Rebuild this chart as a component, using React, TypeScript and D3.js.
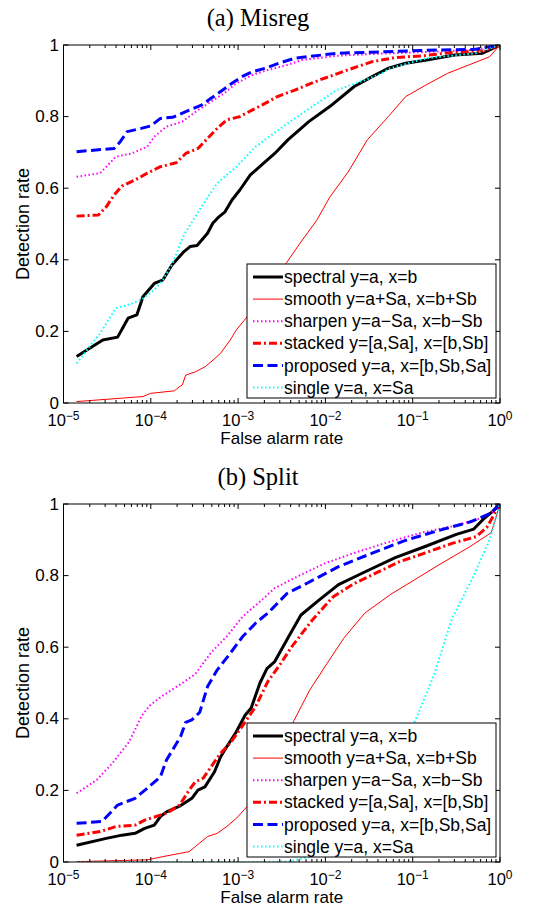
import React from 'react';
import * as d3 from 'd3';

// each point: [log10(false alarm rate), detection rate]
type Pt = [number, number];

const X_EXPONENTS = [-5, -4, -3, -2, -1, 0];
const Y_TICKS = [0, 0.2, 0.4, 0.6, 0.8, 1];
const Y_LABELS = ['0', '0.2', '0.4', '0.6', '0.8', '1'];
const LEGEND_LABELS = [
    'spectral y=a, x=b',
    'smooth y=a+Sa, x=b+Sb',
    'sharpen y=a\u2212Sa, x=b\u2212Sb',
    'stacked y=[a,Sa], x=[b,Sb]',
    'proposed y=a, x=[b,Sb,Sa]',
    'single y=a, x=Sa',
];

// (a) Misreg
const misregSpectral: Pt[] = [[-4.85, .13], [-4.55, .176], [-4.38, .184], [-4.26, .237], [-4.16, .246], [-4.09, .297], [-3.96, .334], [-3.86, .344], [-3.76, .385], [-3.62, .423], [-3.55, .437], [-3.47, .44], [-3.35, .474], [-3.29, .502], [-3.22, .52], [-3.15, .534], [-3.07, .567], [-2.98, .595], [-2.86, .637], [-2.73, .665], [-2.58, .697], [-2.43, .735], [-2.19, .786], [-1.95, .828], [-1.67, .884], [-1.47, .911], [-1.28, .935], [-1.08, .949], [-0.84, .958], [-0.52, .972], [-0.2, .977], [0, 1]];
const misregSmooth: Pt[] = [[-4.85, .004], [-4.09, .018], [-4.0, .027], [-3.73, .034], [-3.67, .046], [-3.64, .05], [-3.6, .078], [-3.49, .087], [-3.38, .101], [-3.31, .115], [-3.2, .139], [-3.09, .176], [-3.02, .204], [-2.9, .24], [-2.7, .31], [-2.55, .35], [-2.45, .39], [-2.28, .45], [-2.1, .51], [-1.95, .575], [-1.74, .645], [-1.52, .735], [-1.28, .8], [-1.08, .856], [-0.85, .888], [-0.6, .921], [-0.36, .944], [-0.12, .967], [0, 1]];
const misregSharpen: Pt[] = [[-4.85, .632], [-4.58, .642], [-4.4, .688], [-4.22, .697], [-4.04, .716], [-3.96, .744], [-3.82, .772], [-3.64, .786], [-3.46, .818], [-3.31, .842], [-3.16, .865], [-3.02, .893], [-2.84, .916], [-2.66, .93], [-2.44, .944], [-2.27, .958], [-1.87, .97], [-1.47, .975], [-0.88, .98], [-0.28, .987], [0, 1]];
const misregStacked: Pt[] = [[-4.85, .522], [-4.6, .525], [-4.51, .548], [-4.42, .581], [-4.33, .606], [-4.18, .623], [-4.04, .642], [-3.89, .66], [-3.71, .671], [-3.6, .697], [-3.46, .711], [-3.35, .739], [-3.24, .767], [-3.13, .791], [-2.98, .8], [-2.84, .818], [-2.69, .837], [-2.55, .856], [-2.35, .874], [-2.07, .902], [-1.75, .93], [-1.47, .953], [-1.2, .965], [-0.88, .97], [-0.52, .98], [-0.2, .983], [0, 1]];
const misregProposed: Pt[] = [[-4.85, .702], [-4.42, .711], [-4.35, .73], [-4.27, .758], [-4.11, .767], [-4.0, .774], [-3.89, .795], [-3.75, .798], [-3.56, .818], [-3.42, .832], [-3.31, .851], [-3.2, .87], [-3.07, .893], [-2.96, .911], [-2.84, .925], [-2.69, .935], [-2.51, .951], [-2.35, .963], [-1.87, .977], [-1.47, .98], [-0.88, .985], [-0.28, .988], [0, 1]];
const misregSingle: Pt[] = [[-4.85, .111], [-4.58, .195], [-4.4, .265], [-4.26, .274], [-4.11, .288], [-3.96, .316], [-3.86, .344], [-3.75, .39], [-3.62, .47], [-3.42, .548], [-3.24, .614], [-3.02, .66], [-2.8, .716], [-2.44, .78], [-2.15, .828], [-1.87, .874], [-1.55, .902], [-1.36, .92], [-1.26, .935], [-0.84, .963], [-0.28, .977], [0, 1]];

// (b) Split
const splitSpectral: Pt[] = [[-4.85, .047], [-4.51, .066], [-4.33, .075], [-4.18, .08], [-4.07, .094], [-3.96, .103], [-3.89, .127], [-3.82, .14], [-3.67, .156], [-3.53, .178], [-3.46, .201], [-3.38, .21], [-3.27, .252], [-3.2, .294], [-3.13, .322], [-3.02, .364], [-2.92, .41], [-2.85, .43], [-2.75, .5], [-2.67, .54], [-2.58, .56], [-2.42, .63], [-2.28, .69], [-2.07, .732], [-1.85, .775], [-1.55, .81], [-1.2, .85], [-0.85, .882], [-0.5, .915], [-0.3, .93], [-0.18, .96], [-0.08, .98], [0, 1]];
const splitSmooth: Pt[] = [[-4.85, .001], [-4.04, .006], [-3.86, .015], [-3.67, .024], [-3.56, .029], [-3.49, .043], [-3.35, .071], [-3.24, .08], [-3.13, .099], [-3.02, .122], [-2.9, .154], [-2.7, .24], [-2.5, .33], [-2.36, .395], [-2.18, .48], [-1.98, .555], [-1.79, .625], [-1.55, .695], [-1.25, .748], [-1.0, .785], [-0.7, .83], [-0.35, .88], [-0.1, .92], [0, 1]];
const splitSharpen: Pt[] = [[-4.85, .192], [-4.62, .229], [-4.44, .276], [-4.25, .335], [-4.1, .41], [-4.0, .44], [-3.86, .465], [-3.67, .495], [-3.49, .525], [-3.31, .585], [-3.13, .63], [-2.95, .685], [-2.76, .725], [-2.58, .765], [-2.3, .8], [-2.0, .835], [-1.65, .865], [-1.3, .892], [-0.9, .92], [-0.5, .94], [-0.25, .958], [-0.1, .975], [0, 1]];
const splitStacked: Pt[] = [[-4.85, .075], [-4.58, .085], [-4.4, .099], [-4.18, .103], [-4.07, .117], [-3.89, .131], [-3.82, .136], [-3.67, .159], [-3.56, .201], [-3.49, .224], [-3.4, .234], [-3.31, .266], [-3.2, .304], [-3.09, .332], [-2.95, .38], [-2.8, .434], [-2.66, .504], [-2.51, .555], [-2.39, .6], [-2.15, .676], [-1.91, .741], [-1.67, .778], [-1.43, .806], [-1.15, .839], [-0.87, .862], [-0.55, .89], [-0.27, .909], [-0.15, .935], [0, 1]];
const splitProposed: Pt[] = [[-4.85, .108], [-4.56, .113], [-4.38, .159], [-4.18, .178], [-4.04, .206], [-3.89, .238], [-3.82, .285], [-3.75, .313], [-3.66, .35], [-3.6, .39], [-3.53, .397], [-3.44, .418], [-3.35, .49], [-3.24, .536], [-3.09, .583], [-2.95, .629], [-2.8, .667], [-2.66, .695], [-2.44, .75], [-2.2, .78], [-1.85, .825], [-1.47, .862], [-1.1, .897], [-0.72, .925], [-0.34, .95], [-0.1, .975], [0, 1]];
const splitSingle: Pt[] = [[-4.85, 0], [-2.7, 0], [-2.4, .002], [-2.1, .02], [-1.8, .07], [-1.5, .16], [-1.25, .27], [-0.97, .395], [-0.76, .52], [-0.55, .68], [-0.3, .8], [-0.12, .9], [0, 1]];

const STYLES = [
    { color: '#000000', width: 3, dash: undefined },
    { color: '#ff0000', width: 1, dash: undefined },
    { color: '#ff00ff', width: 2, dash: '1.5 2.5' },
    { color: '#ff0000', width: 3, dash: '8 3 2 3' },
    { color: '#0000ff', width: 3, dash: '10 4.5' },
    { color: '#00ffff', width: 2, dash: '1.5 2.5' },
];

const SANS = '"Liberation Sans", Arial, Helvetica, sans-serif';
const SERIF = '"Liberation Serif", "Times New Roman", serif';

const LEFT = 63.5;
const RIGHT = 500;
const PLOT_H = 358;

const Panel = ({ id, title, top, series }: { id: string; title: string; top: number; series: Pt[][] }) => {
    const bottom = top + PLOT_H;
    const x = d3.scaleLog().domain([1e-5, 1]).range([LEFT, RIGHT]);
    const y = d3.scaleLinear().domain([0, 1]).range([bottom, top]);
    const line = d3.line<Pt>().x(d => x(Math.pow(10, d[0]))).y(d => y(d[1]));

    const minor: number[] = [];
    X_EXPONENTS.slice(0, -1).forEach(e => {
        for (let m = 2; m <= 9; m++) minor.push(m * Math.pow(10, e));
    });

    const legX = 247, legW = 249, legTop = top + 219, legH = 134;

    return (
        <g>
            <text x={258} y={top - 19} textAnchor="middle" fontFamily={SERIF} fontSize={24.5}>{title}</text>
            <defs>
                <clipPath id={id}>
                    <rect x={LEFT} y={top} width={RIGHT - LEFT} height={PLOT_H} />
                </clipPath>
            </defs>
            <rect x={LEFT} y={top} width={RIGHT - LEFT} height={PLOT_H} fill="#fff" />

            <g clipPath={`url(#${id})`}>
                {series.map((s, i) => (
                    <path key={i} d={line(s) || ''} fill="none" stroke={STYLES[i].color}
                        strokeWidth={STYLES[i].width} strokeDasharray={STYLES[i].dash}
                        strokeLinejoin="round" />
                ))}
            </g>

            {/* ticks */}
            {X_EXPONENTS.map(e => {
                const px = x(Math.pow(10, e));
                return (
                    <g key={e}>
                        <line x1={px} x2={px} y1={bottom} y2={bottom - 5} stroke="#000" />
                        <line x1={px} x2={px} y1={top} y2={top + 5} stroke="#000" />
                        <text x={px} y={bottom + 22.5} textAnchor="middle" fontFamily={SANS} fontSize={16.5}>
                            10<tspan dy={-6} fontSize={12}>{e < 0 ? '\u2212' + (-e) : String(e)}</tspan>
                        </text>
                    </g>
                );
            })}
            {minor.map((v, i) => (
                <g key={i}>
                    <line x1={x(v)} x2={x(v)} y1={bottom} y2={bottom - 3} stroke="#000" />
                    <line x1={x(v)} x2={x(v)} y1={top} y2={top + 3} stroke="#000" />
                </g>
            ))}
            {Y_TICKS.map((t, i) => (
                <g key={t}>
                    <line x1={LEFT} x2={LEFT + 5} y1={y(t)} y2={y(t)} stroke="#000" />
                    <line x1={RIGHT} x2={RIGHT - 5} y1={y(t)} y2={y(t)} stroke="#000" />
                    <text x={59} y={y(t)} dy="0.33em" textAnchor="end" fontFamily={SANS} fontSize={17}>{Y_LABELS[i]}</text>
                </g>
            ))}
            <rect x={LEFT} y={top} width={RIGHT - LEFT} height={PLOT_H} fill="none" stroke="#000" />

            <text x={(LEFT + RIGHT) / 2} y={bottom + 41} textAnchor="middle" fontFamily={SANS} fontSize={17}>False alarm rate</text>
            <text transform={`translate(29,${(top + bottom) / 2}) rotate(-90)`} textAnchor="middle" fontFamily={SANS} fontSize={18}>Detection rate</text>

            {/* legend */}
            <rect x={legX} y={legTop} width={legW} height={legH} fill="#fff" stroke="#000" />
            {LEGEND_LABELS.map((label, i) => {
                const ly = legTop + 13 + i * 22.1;
                return (
                    <g key={label}>
                        <line x1={253} x2={283} y1={ly} y2={ly} stroke={STYLES[i].color}
                            strokeWidth={STYLES[i].width} strokeDasharray={STYLES[i].dash} />
                        <text x={284} y={ly} dy="0.35em" fontFamily={SANS} fontSize={17.5}>{label}</text>
                    </g>
                );
            })}
        </g>
    );
};

const App = () => (
    <svg width={544} height={907} style={{ position: 'absolute', left: 0, top: 0, background: '#fff' }}>
        <Panel id="clip-a" title="(a) Misreg" top={45}
            series={[misregSpectral, misregSmooth, misregSharpen, misregStacked, misregProposed, misregSingle]} />
        <Panel id="clip-b" title="(b) Split" top={504}
            series={[splitSpectral, splitSmooth, splitSharpen, splitStacked, splitProposed, splitSingle]} />
    </svg>
);

export default App;
